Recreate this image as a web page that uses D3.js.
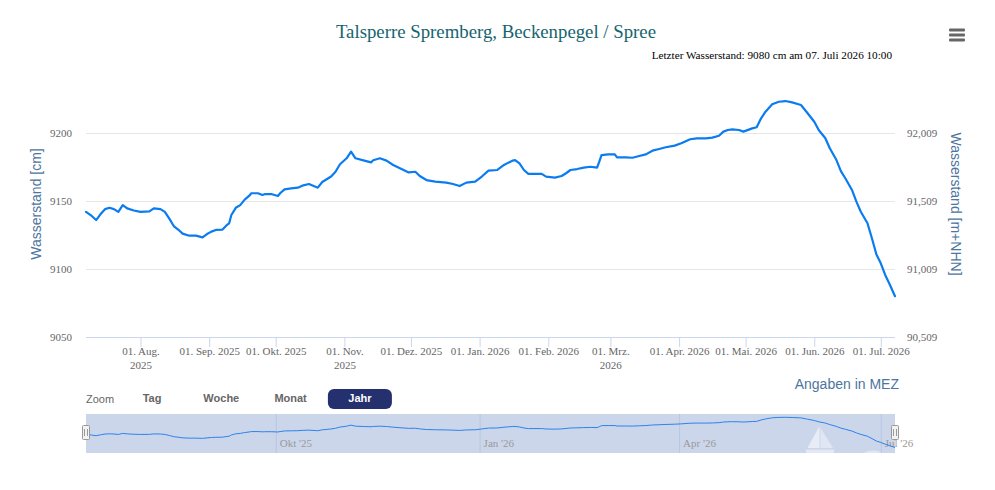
<!DOCTYPE html>
<html><head><meta charset="utf-8">
<script src="https://cdn.jsdelivr.net/npm/d3@7"></script>
<style>body{margin:0;background:#fff}svg{display:block}</style>
</head><body>
<svg id="chart" width="995" height="490"></svg>
<script>
const titleText = "Talsperre Spremberg, Beckenpegel / Spree";
const subtitleText = "Letzter Wasserstand: 9080 cm am 07. Juli 2026 10:00";
const leftAxisTitle = "Wasserstand [cm]";
const rightAxisTitle = "Wasserstand [m+NHN]";
const creditText = "Angaben in MEZ";
const rangeStart = "2025-07-07T10:00Z";
const rangeEnd = "2026-07-07T10:00Z";

const dates = [
"2025-07-07T10:00Z","2025-07-10","2025-07-12","2025-07-14","2025-07-16","2025-07-18","2025-07-20","2025-07-22","2025-07-24","2025-07-26",
"2025-07-29","2025-08-01","2025-08-05","2025-08-07","2025-08-10","2025-08-12","2025-08-14","2025-08-16","2025-08-18","2025-08-20",
"2025-08-23","2025-08-26","2025-08-29","2025-08-31","2025-09-02","2025-09-04","2025-09-07","2025-09-09","2025-09-10","2025-09-11",
"2025-09-13","2025-09-15","2025-09-17","2025-09-19","2025-09-20","2025-09-23","2025-09-25","2025-09-26","2025-09-29","2025-10-02",
"2025-10-03","2025-10-05","2025-10-08","2025-10-11","2025-10-13","2025-10-16","2025-10-20","2025-10-22","2025-10-26","2025-10-28",
"2025-10-30","2025-11-02","2025-11-04","2025-11-06","2025-11-10","2025-11-13","2025-11-14","2025-11-17","2025-11-20","2025-11-23",
"2025-11-27","2025-11-30","2025-12-03","2025-12-05","2025-12-08","2025-12-12","2025-12-17","2025-12-20","2025-12-23","2025-12-26",
"2025-12-30","2026-01-02","2026-01-05","2026-01-09","2026-01-12","2026-01-14","2026-01-16","2026-01-17","2026-01-19","2026-01-21",
"2026-01-23","2026-01-26","2026-01-29","2026-01-31","2026-02-04","2026-02-07","2026-02-09","2026-02-11","2026-02-14","2026-02-17",
"2026-02-20","2026-02-23","2026-02-24","2026-02-25","2026-02-28","2026-03-03","2026-03-04","2026-03-08","2026-03-11","2026-03-14",
"2026-03-17","2026-03-20","2026-03-23","2026-03-26","2026-03-30","2026-04-02","2026-04-06","2026-04-09","2026-04-13","2026-04-16",
"2026-04-19","2026-04-21","2026-04-23","2026-04-25","2026-04-28","2026-04-30","2026-05-04","2026-05-06","2026-05-08","2026-05-10",
"2026-05-13","2026-05-16","2026-05-19","2026-05-22","2026-05-26","2026-05-29","2026-06-01","2026-06-03","2026-06-06","2026-06-08",
"2026-06-11","2026-06-13","2026-06-15","2026-06-18","2026-06-20","2026-06-22","2026-06-25","2026-06-27","2026-06-29","2026-07-01",
"2026-07-03","2026-07-05","2026-07-07T10:00Z"
];
const values = [
9142,9139,9136,9140.4,9144,9145,9144,9142,9147,9144.6,
9143,9142,9142.4,9144.6,9144,9142,9137,9131.6,9129,9126,
9124.5,9124.5,9123.3,9125.7,9127.5,9128.7,9129,9132.4,9133.6,9139.7,
9145,9147,9151,9153.7,9155.7,9155.7,9154.4,9155,9155.1,9153.7,
9155.7,9158.6,9159.3,9159.8,9161.3,9162.5,9159.8,9164,9168,9171.5,
9177,9181.4,9186.3,9181.4,9179.7,9178.4,9180,9181.4,9179.7,9176.5,
9173.3,9171,9171.5,9168.4,9165.4,9164.2,9163.5,9162.5,9161,9163.5,
9164.2,9168,9172.3,9172.8,9176.5,9178.2,9179.7,9180,9177.7,9172.8,
9169.9,9169.9,9169.9,9167.9,9167.2,9168.4,9170.4,9172.8,9173.5,9174.5,
9175.2,9174.5,9178.9,9183.8,9184.3,9184.3,9182.1,9182.1,9181.8,9183.1,
9184.3,9187,9188.2,9189.5,9190.7,9192.4,9195.4,9196.1,9196.1,9196.6,
9198,9201,9202.2,9202.7,9202.2,9201,9203.4,9204.2,9210.8,9215.7,
9221.1,9223,9223.5,9222.5,9220.6,9214.5,9208.3,9202.2,9196.1,9188.8,
9180.1,9172,9166.7,9158.1,9149.5,9142.1,9133.6,9122.6,9110.8,9104.2,
9095.6,9088.8,9080
];

const yTicks = [9050, 9100, 9150, 9200];
const rightTickLabels = ["90,509", "91,009", "91,509", "92,009"];
const xTickDates = ["2025-08-01","2025-09-01","2025-10-01","2025-11-01","2025-12-01","2026-01-01","2026-02-01","2026-03-01","2026-04-01","2026-05-01","2026-06-01","2026-07-01"];
const xTickLabels = [["01. Aug.","2025"],["01. Sep. 2025"],["01. Okt. 2025"],["01. Nov.","2025"],["01. Dez. 2025"],["01. Jan. 2026"],["01. Feb. 2026"],["01. Mrz.","2026"],["01. Apr. 2026"],["01. Mai. 2026"],["01. Jun. 2026"],["01. Jul. 2026"]];
const navTickDates = ["2025-10-01","2026-01-01","2026-04-01","2026-07-01"];
const navTickLabels = ["Okt '25","Jan '26","Apr '26","Jul '26"];
const zoomButtons = ["Tag","Woche","Monat","Jahr"];
const selectedButton = 3;

const SERIF = "'Liberation Serif','Times New Roman',serif";
const SANS = "'Liberation Sans',Arial,sans-serif";

const data = dates.map((d,i)=>({t:d3.isoParse(d), v:values[i]}));
const svg = d3.select("#chart");
const L = 86, R = 895, T = 71, B = 337;

const x = d3.scaleUtc().domain([d3.isoParse(rangeStart), d3.isoParse(rangeEnd)]).range([L, R]);
const y = d3.scaleLinear().domain([9050, 9200]).range([B, 133]);

// title / subtitle
svg.append("text").attr("x", 496).attr("y", 38).attr("text-anchor","middle")
  .style("font-family", SERIF).style("font-size","18.8px").attr("fill","#16646e").text(titleText);
svg.append("text").attr("x", 892).attr("y", 59).attr("text-anchor","end")
  .style("font-family", SERIF).style("font-size","11.2px").attr("fill","#000").text(subtitleText);

// hamburger
[30,35,40].forEach(yy=>svg.append("rect").attr("x",949).attr("y",yy-1.5).attr("width",16).attr("height",3).attr("rx",1).attr("fill","#666"));

// gridlines
const grid = svg.append("g").attr("transform",`translate(${L},0)`)
  .call(d3.axisLeft(y).tickValues(yTicks.filter(v=>v!==9050)).tickSize(-(R-L)).tickFormat(""));
grid.select(".domain").remove();
grid.selectAll("line").attr("stroke","#e6e6e6");

// left axis labels
const ya = svg.append("g").attr("transform",`translate(${L},0)`)
  .call(d3.axisLeft(y).tickValues(yTicks).tickSize(0).tickPadding(14).tickFormat(d3.format("d")));
ya.select(".domain").remove();
ya.selectAll("text").style("font-family",SERIF).style("font-size","11px").attr("fill","#666");

// right axis labels
const yr = svg.append("g").attr("transform",`translate(${R},0)`)
  .call(d3.axisRight(y).tickValues(yTicks).tickSize(0).tickPadding(12).tickFormat((d,i)=>rightTickLabels[i]));
yr.select(".domain").remove();
yr.selectAll("text").style("font-family",SERIF).style("font-size","11px").attr("fill","#666");

// bottom axis
const xa = svg.append("g").attr("transform",`translate(0,${B})`)
  .call(d3.axisBottom(x).tickValues(xTickDates.map(d3.isoParse)).tickSize(10).tickFormat(""));
xa.select(".domain").attr("stroke","#ccd6eb").attr("d",`M${L},0.5H${R}`);
xa.selectAll("line").attr("stroke","#ccd6eb");
xa.selectAll(".tick").each(function(d,i){
  const t = d3.select(this).append("text").attr("text-anchor","middle").attr("y",18)
    .style("font-family",SERIF).style("font-size","11px").attr("fill","#666");
  xTickLabels[i].forEach((s,j)=>t.append("tspan").attr("x",0).attr("dy", j===0?0:14).text(s));
});

// axis titles
svg.append("text").attr("transform","translate(41,204) rotate(-90)").attr("text-anchor","middle")
  .style("font-family",SANS).style("font-size","14px").attr("fill","#4d759e").text(leftAxisTitle);
svg.append("text").attr("transform","translate(951,204) rotate(90)").attr("text-anchor","middle")
  .style("font-family",SANS).style("font-size","14px").attr("fill","#4d759e").text(rightAxisTitle);

// series line
const line = d3.line().x(d=>x(d.t)).y(d=>y(d.v));
svg.append("path").datum(data).attr("d",line).attr("fill","none")
  .attr("stroke","#0b7bf0").attr("stroke-width",2.2).attr("stroke-linejoin","round").attr("stroke-linecap","round");

// credit
svg.append("text").attr("x",899).attr("y",389).attr("text-anchor","end")
  .style("font-family",SANS).style("font-size","14px").attr("fill","#4d759e").text(creditText);

// range selector
svg.append("text").attr("x",86).attr("y",403).style("font-family",SANS).style("font-size","11px").attr("fill","#666").text("Zoom");
zoomButtons.forEach((b,i)=>{
  const cx = 152 + i*69.3;
  if(i===selectedButton){
    svg.append("rect").attr("x",cx-32).attr("y",389).attr("width",64).attr("height",20).attr("rx",6).attr("fill","#25306f");
  }
  svg.append("text").attr("x",cx).attr("y",402).attr("text-anchor","middle")
    .style("font-family",SANS).style("font-size","11px").style("font-weight","bold")
    .attr("fill", i===selectedButton ? "#fff" : "#666").text(b);
});

// navigator
const NT = 414, NB = 453;
svg.append("rect").attr("x",L).attr("y",NT).attr("width",R-L).attr("height",NB-NT).attr("fill","#ccd6eb");
const na = svg.append("g").attr("transform",`translate(0,${NB})`)
  .call(d3.axisBottom(x).tickValues(navTickDates.map(d3.isoParse)).tickSize(-(NB-NT)).tickFormat(""));
na.select(".domain").remove();
na.selectAll("line").attr("stroke","#b9c6e0").attr("stroke-width",1);
na.selectAll(".tick").append("text").attr("x",3.5).attr("y",-6).attr("text-anchor","start")
  .style("font-family",SERIF).style("font-size","11px").attr("fill","#999").text((d,i)=>navTickLabels[i]);

const ny = d3.scaleLinear().domain(d3.extent(values)).range([447.5, 417.3]);
const nline = d3.line().x(d=>x(d.t)).y(d=>ny(d.v));
svg.append("path").datum(data).attr("d",nline).attr("fill","none").attr("stroke","#2c82ec").attr("stroke-width",1);

// watermark boat
const wm = svg.append("g").attr("fill","#fff");
wm.append("path").attr("d","M819.5,426L807.5,448H819.5Z").attr("opacity",0.55);
wm.append("path").attr("d","M820.5,428L833,448H820.5Z").attr("opacity",0.4);
wm.append("rect").attr("x",806).attr("y",449.5).attr("width",28).attr("height",3.5).attr("opacity",0.45);
wm.append("path").attr("d","M864,453A11,6 0 0 1 882,453Z").attr("opacity",0.4);

// handles
[L, R].forEach(hx=>{
  svg.append("rect").attr("x",hx-3.5).attr("y",425.5).attr("width",7).attr("height",14).attr("rx",1)
    .attr("fill","#f2f2f2").attr("stroke","#999");
  svg.append("path").attr("d",`M${hx-1.5},429V436M${hx+1.5},429V436`).attr("stroke","#999");
});
</script>
</body></html>
